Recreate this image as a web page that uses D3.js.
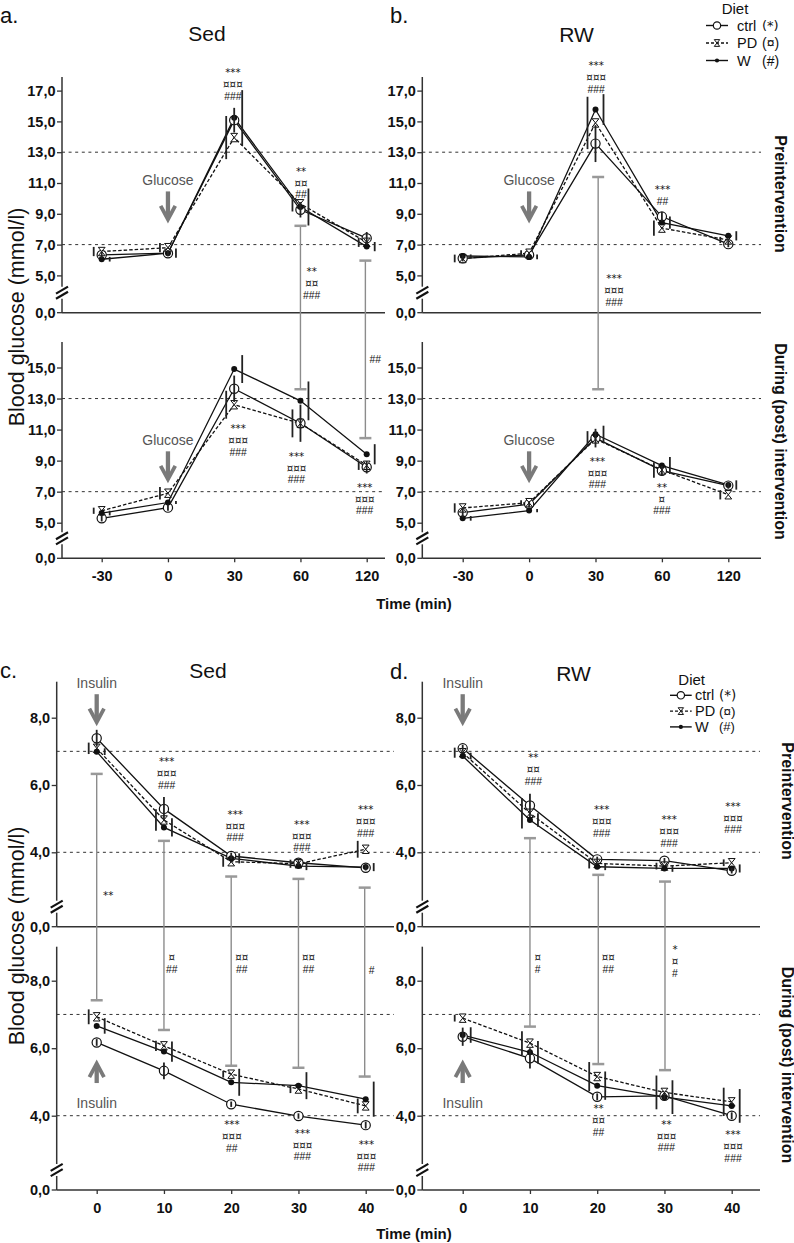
<!DOCTYPE html>
<html><head><meta charset="utf-8">
<script src="https://cdn.jsdelivr.net/npm/d3@7"></script>
<style>body{margin:0;background:#fff}svg{display:block}</style>
</head><body><svg id="chart" width="794" height="1243"></svg>
<script>
// ---------------- DATA ----------------
const ogttTimes = ["-30", "0", "30", "60", "120"];
const ogttIdx = [0, 1, 2, 3, 4];
const ittTimes = [0, 10, 20, 30, 40];
const ogttPreTicks = [5, 7, 9, 11, 13, 15, 17];
const ogttPostTicks = [5, 7, 9, 11, 13, 15];
const ittTicks = [4, 6, 8];
const ogttRefs = [7, 13];
const ittRefs = [4, 7];
const dietNames = ["ctrl", "PD", "W"];
const dietSymbols = ["(*)", "(¤)", "(#)"];

// a. Sed – OGTT
const aPreCtrl = [6.33, 6.44, 15.08, 9.26, 7.42];
const aPrePD   = [6.55, 6.80, 13.95, 9.65, 7.15];
const aPreW    = [6.05, 6.44, 15.23, 9.44, 6.87];
const aPreCtrlErr = [0.2, 0.2, 0.8, 0.5, 0.4];
const aPrePDErr   = [0.3, 0.3, 1.4, 0.5, 0.3];
const aPreWErr    = [0.15, 0.3, 1.8, 1.2, 0.3];
const aPostCtrl = [5.28, 5.97, 13.63, 11.41, 8.57];
const aPostPD   = [5.77, 6.90, 12.60, 11.40, 8.70];
const aPostW    = [5.62, 6.30, 14.90, 12.85, 9.41];
const aPostCtrlErr = [0.2, 0.2, 0.85, 1.2, 0.4];
const aPostPDErr   = [0.2, 0.4, 0.9, 0.9, 0.3];
const aPostWErr    = [0.15, 0.1, 0.9, 1.25, 0.65];

// b. RW – OGTT
const bPreCtrl = [6.11, 6.33, 13.56, 8.82, 7.03];
const bPrePD   = [6.10, 6.44, 14.90, 8.07, 7.30];
const bPreW    = [6.26, 6.20, 15.77, 8.43, 7.57];
const bPreCtrlErr = [0.2, 0.2, 1.2, 0.3, 0.2];
const bPrePDErr   = [0.25, 0.2, 1.7, 0.5, 0.2];
const bPreWErr    = [0.1, 0.15, 1.0, 0.4, 0.3];
const bPostCtrl = [5.65, 6.20, 10.45, 8.35, 7.39];
const bPostPD   = [5.95, 6.29, 10.40, 8.40, 6.80];
const bPostW    = [5.28, 5.78, 10.70, 8.68, 7.43];
const bPostCtrlErr = [0.3, 0.2, 0.6, 0.3, 0.2];
const bPostPDErr   = [0.3, 0.15, 0.5, 0.5, 0.3];
const bPostWErr    = [0.15, 0.1, 0.55, 0.55, 0.3];

// c. Sed – ITT
const cPreCtrl = [7.39, 5.29, 3.89, 3.69, 3.54];
const cPrePD   = [7.09, 4.96, 3.72, 3.66, 4.09];
const cPreW    = [6.99, 4.74, 3.82, 3.59, 3.56];
const cPreCtrlErr = [0.25, 0.35, 0.1, 0.08, 0.08];
const cPrePDErr   = [0.17, 0.32, 0.15, 0.12, 0.25];
const cPreWErr    = [0.1, 0.27, 0.15, 0.12, 0.12];
const cPostCtrl = [6.17, 5.33, 4.34, 3.99, 3.72];
const cPostPD   = [6.93, 6.07, 5.23, 4.79, 4.29];
const cPostW    = [6.66, 5.90, 4.99, 4.89, 4.49];
const cPostCtrlErr = [0.1, 0.25, 0.08, 0.08, 0.1];
const cPostPDErr   = [0.22, 0.15, 0.1, 0.12, 0.22];
const cPostWErr    = [0.23, 0.3, 0.4, 0.4, 0.52];

// d. RW – ITT
const dPreCtrl = [7.09, 5.39, 3.79, 3.75, 3.45];
const dPrePD   = [6.96, 5.16, 3.67, 3.59, 3.69];
const dPreW    = [6.86, 4.96, 3.57, 3.52, 3.52];
const dPreCtrlErr = [0.1, 0.35, 0.08, 0.08, 0.08];
const dPrePDErr   = [0.15, 0.45, 0.15, 0.1, 0.1];
const dPreWErr    = [0.1, 0.2, 0.1, 0.1, 0.12];
const dPostCtrl = [6.34, 5.70, 4.56, 4.59, 4.00];
const dPostPD   = [6.89, 6.15, 5.16, 4.69, 4.41];
const dPostW    = [6.39, 5.88, 4.89, 4.55, 4.29];
const dPostCtrlErr = [0.27, 0.3, 0.1, 0.1, 0.1];
const dPostPDErr   = [0.1, 0.35, 0.43, 0.5, 0.42];
const dPostWErr    = [0.23, 0.33, 0.42, 0.5, 0.5];

// significance labels: [x (data units), y (data units), lines]
const aPreSig  = [[1.98, 18.25, ["***", "¤¤¤", "###"]], [3.01, 11.87, ["**", "¤¤", "##"]], [3.17, 5.35, ["**", "¤¤", "###"]]];
const aPostSig = [[2.06, 11.15, ["***", "¤¤¤", "###"]], [2.94, 9.39, ["***", "¤¤¤", "###"]], [3.97, 7.39, ["***", "¤¤¤", "###"]], [4.13, 15.56, ["##"]]];
const bPreSig  = [[2.01, 18.7, ["***", "¤¤¤", "###"]], [3.01, 10.67, ["***", "##"]], [2.28, 4.88, ["***", "¤¤¤", "###"]]];
const bPostSig = [[2.03, 9.05, ["***", "¤¤¤", "###"]], [3.0, 7.39, ["**", "¤", "###"]]];
const cPreSig  = [[10.4, 6.74, ["***", "¤¤¤", "###"]], [20.6, 5.18, ["***", "¤¤¤", "###"]], [30.5, 4.88, ["***", "¤¤¤", "###"]], [40.0, 5.31, ["***", "¤¤¤", "###"]], [1.72, 2.76, ["**"]]];
const cPostSig = [[20.1, 3.77, ["***", "¤¤¤", "##"]], [30.6, 3.53, ["***", "¤¤¤", "###"]], [40.1, 3.2, ["***", "¤¤¤", "###"]],
                  [11.15, 8.73, ["¤", "##"]], [21.56, 8.73, ["¤¤", "##"]], [31.5, 8.73, ["¤¤", "##"]], [40.9, 8.34, ["#"]]];
const dPreSig  = [[10.5, 6.86, ["**", "¤¤", "###"]], [20.67, 5.31, ["***", "¤¤¤", "###"]], [30.7, 5.01, ["***", "¤¤¤", "###"]], [40.2, 5.41, ["***", "¤¤¤", "###"]]];
const dPostSig = [[20.2, 4.25, ["**", "¤¤", "##"]], [30.3, 3.79, ["**", "¤¤¤", "###"]], [40.2, 3.48, ["***", "¤¤¤", "###"]],
                  [11.15, 8.73, ["¤", "#"]], [21.65, 8.73, ["¤¤", "##"]], [31.57, 8.96, ["*", "¤", "#"]]];

// pre vs post comparison bars: [x, pre value (pre scale), post value (post scale)]
const aCompare = [[3, 8.22, 13.6], [3.98, 5.96, 10.45]];
const bCompare = [[2.04, 11.39, 13.6]];
const cCompare = [[0, 6.33, 7.42], [10, 4.34, 6.54], [20, 3.28, 5.48], [30, 3.21, 5.42], [39.85, 2.95, 5.16]];
const dCompare = [[10, 4.42, 6.64], [20.16, 3.33, 5.53], [30.08, 3.13, 5.35]];

// ---------------- DRAWING ----------------
const svg = d3.select("#chart");
const FONT = '"Liberation Sans", Arial, Helvetica, sans-serif';
const DJV = '"DejaVu Sans", sans-serif';
const fmt = d => d3.format(".1f")(d).replace(".", ",");
const INK = "#111";

function txt(g, x, y, s, size, o = {}) {
  const t = g.append("text").attr("x", x).attr("y", y).text(s)
    .attr("font-family", o.family || FONT).attr("font-size", size)
    .attr("font-weight", o.bold ? "bold" : "normal")
    .attr("fill", o.fill || INK)
    .attr("text-anchor", o.anchor || "middle")
    .attr("dominant-baseline", "central");
  if (o.rotate) t.attr("transform", `rotate(${o.rotate},${x},${y})`);
  return t;
}

function styleAxis(ag) {
  ag.selectAll(".tick line").attr("stroke", "#333").attr("stroke-width", 1.3);
  ag.selectAll(".tick text").attr("font-family", FONT).attr("font-size", 14.5)
    .attr("font-weight", "bold").attr("fill", INK);
}

function marker(g, kind, cx, cy, s) {
  if (kind === "ctrl") {
    g.append("circle").attr("cx", cx).attr("cy", cy).attr("r", 4.6 * s)
      .attr("fill", "#fff").attr("stroke", INK).attr("stroke-width", 1.2);
  } else if (kind === "PD") {
    const w = 3.4 * s, h = 4.2 * s;
    g.append("path").attr("d",
      `M${cx - w},${cy - h}L${cx + w},${cy - h}L${cx},${cy}Z M${cx - w},${cy + h}L${cx + w},${cy + h}L${cx},${cy}Z`)
      .attr("fill", "#fff").attr("stroke", INK).attr("stroke-width", 1);
  } else {
    g.append("circle").attr("cx", cx).attr("cy", cy).attr("r", 3 * s).attr("fill", INK);
  }
}

// stacked significance marks (compact fonts so that the lines do not collide)
function sigText(g, x, y, lines) {
  lines.forEach((s, k) => {
    const hash = s.includes("#");
    txt(g, x, y + 1 + k * 12, s, hash ? 10.4 : 10.3, { family: hash ? FONT : DJV });
  });
}

function phase(o) {
  const g = svg.append("g");
  const X = i => o.x(o.xv[i]);
  o.refs.forEach(r => g.append("line").attr("x1", o.axisX).attr("x2", o.right)
    .attr("y1", o.y(r)).attr("y2", o.y(r)).attr("stroke", "#333").attr("stroke-width", 1)
    .attr("stroke-dasharray", "3,3.6"));
  const yg = g.append("g").attr("transform", `translate(${o.axisX},0)`)
    .call(d3.axisLeft(o.y).tickValues(o.ticks).tickFormat(fmt).tickSize(5).tickPadding(1.5));
  yg.select(".domain").remove();
  styleAxis(yg);
  g.append("line").attr("x1", o.axisX - 5).attr("x2", o.axisX).attr("y1", o.base).attr("y2", o.base)
    .attr("stroke", "#333").attr("stroke-width", 1.3);
  txt(g, o.axisX - 6.5, o.base, fmt(0), 14.5, { bold: true, anchor: "end" });
  const yb = o.base - 20;
  g.append("line").attr("x1", o.axisX).attr("x2", o.axisX).attr("y1", o.top).attr("y2", yb - 6)
    .attr("stroke", "#333").attr("stroke-width", 1.5);
  g.append("line").attr("x1", o.axisX).attr("x2", o.axisX).attr("y1", yb + 6).attr("y2", o.base)
    .attr("stroke", "#333").attr("stroke-width", 1.5);
  [-2.6, 2.6].forEach(k => g.append("line")
    .attr("x1", o.axisX - 6).attr("y1", yb + 3.5 + k).attr("x2", o.axisX + 6).attr("y2", yb - 3.5 + k)
    .attr("stroke", INK).attr("stroke-width", 2.2));
  g.append("line").attr("x1", o.axisX).attr("x2", o.right).attr("y1", o.base).attr("y2", o.base)
    .attr("stroke", "#333").attr("stroke-width", 1.5);
  if (o.xLabels) {
    const xg = g.append("g").attr("transform", `translate(0,${o.base})`)
      .call(d3.axisBottom(o.x).tickValues(o.xv).tickFormat((d, i) => o.xLabels[i]).tickSize(4).tickPadding(8.5));
    xg.select(".domain").remove();
    styleAxis(xg);
  }
  const ser = [
    { v: o.ctrl, e: o.ctrlE, k: "ctrl", off: 0 },
    { v: o.pd, e: o.pdE, k: "PD", off: -8 },
    { v: o.w, e: o.wE, k: "W", off: 8 }
  ];
  ser.forEach(s => g.append("path").datum(s.v)
    .attr("d", d3.line().x((d, i) => X(i)).y(d => o.y(d)))
    .attr("fill", "none").attr("stroke", INK).attr("stroke-width", 1.3)
    .attr("stroke-dasharray", s.k === "PD" ? "3.5,2" : null));
  ser.forEach(s => s.v.forEach((d, i) => marker(g, s.k, X(i), o.y(d), 1)));
  ser.forEach(s => s.v.forEach((d, i) => g.append("line")
    .attr("x1", X(i) + s.off).attr("x2", X(i) + s.off)
    .attr("y1", o.y(d - s.e[i])).attr("y2", o.y(d + s.e[i]))
    .attr("stroke", "#222").attr("stroke-width", 1.8)));
  o.sig.forEach(([xv, yv, lines]) => sigText(g, o.x(xv), o.y(yv), lines));
}

function compare(x, yPre, yPost, list) {
  list.forEach(([xv, a, b]) => {
    const xx = x(xv), y1 = yPre(a), y2 = yPost(b);
    svg.append("line").attr("x1", xx).attr("x2", xx).attr("y1", y1).attr("y2", y2)
      .attr("stroke", "#8c8c8c").attr("stroke-width", 1.4);
    [y1, y2].forEach(yy => svg.append("line").attr("x1", xx - 6).attr("x2", xx + 6)
      .attr("y1", yy).attr("y2", yy).attr("stroke", "#999").attr("stroke-width", 2.5));
  });
}

function arrow(x, textY, label, down) {
  const col = "#7a7a7a";
  txt(svg, x, textY, label, 14, { fill: "#555" });
  let y0, tip;
  if (down) { y0 = textY + 11.5; tip = textY + 41; }
  else { y0 = textY - 19.5; tip = textY - 40.5; }
  const dir = down ? 1 : -1;
  svg.append("line").attr("x1", x).attr("x2", x).attr("y1", y0).attr("y2", tip - dir * 3)
    .attr("stroke", col).attr("stroke-width", 4.3);
  svg.append("path").attr("d", `M${x - 7.3},${tip - dir * 15}L${x},${tip - dir * 1.5}L${x + 7.3},${tip - dir * 15}`)
    .attr("fill", "none").attr("stroke", col).attr("stroke-width", 3.8);
}

function legend(cx, y0, dy, x1, x2, tx, px, parenSizes) {
  txt(svg, cx, y0, "Diet", 15);
  dietNames.forEach((n, i) => {
    const y = y0 + dy * (i + 1);
    svg.append("line").attr("x1", x1).attr("x2", x2).attr("y1", y).attr("y2", y)
      .attr("stroke", INK).attr("stroke-width", 1.4)
      .attr("stroke-dasharray", n === "PD" ? "3,2" : null);
    marker(svg, n, (x1 + x2) / 2, y, n === "W" ? 0.7 : 0.8);
    txt(svg, tx, y, n, 14.5, { anchor: "start" });
    txt(svg, px, y, dietSymbols[i], parenSizes[i], { anchor: "start", family: i === 0 ? DJV : FONT });
  });
}

// ---- scales ----
const xA = d3.scaleLinear().domain([0, 4]).range([101.7, 366.7]);
const xB = d3.scaleLinear().domain([0, 4]).range([462.7, 728.3]);
const yTopPre = d3.scaleLinear().domain([5, 17]).range([275.4, 90.6]);
const yTopPost = d3.scaleLinear().domain([5, 15]).range([522.7, 367.5]);
const xC = d3.scaleLinear().domain([0, 40]).range([96.7, 365.7]);
const xD = d3.scaleLinear().domain([0, 40]).range([462.7, 731.7]);
const yBotPre = d3.scaleLinear().domain([4, 8]).range([852.3, 717.7]);
const yBotPost = d3.scaleLinear().domain([4, 8]).range([1115.7, 980.7]);

// ---- panels ----
const topCommon = { xv: ogttIdx, refs: ogttRefs };
phase({ ...topCommon, x: xA, y: yTopPre, axisX: 62, right: 385, top: 77, base: 312.7, ticks: ogttPreTicks,
  ctrl: aPreCtrl, ctrlE: aPreCtrlErr, pd: aPrePD, pdE: aPrePDErr, w: aPreW, wE: aPreWErr, sig: aPreSig });
phase({ ...topCommon, x: xA, y: yTopPost, axisX: 62, right: 385, top: 342, base: 558.3, ticks: ogttPostTicks, xLabels: ogttTimes,
  ctrl: aPostCtrl, ctrlE: aPostCtrlErr, pd: aPostPD, pdE: aPostPDErr, w: aPostW, wE: aPostWErr, sig: aPostSig });
phase({ ...topCommon, x: xB, y: yTopPre, axisX: 422.3, right: 761, top: 77, base: 312.7, ticks: ogttPreTicks,
  ctrl: bPreCtrl, ctrlE: bPreCtrlErr, pd: bPrePD, pdE: bPrePDErr, w: bPreW, wE: bPreWErr, sig: bPreSig });
phase({ ...topCommon, x: xB, y: yTopPost, axisX: 422.3, right: 761, top: 342, base: 558.3, ticks: ogttPostTicks, xLabels: ogttTimes,
  ctrl: bPostCtrl, ctrlE: bPostCtrlErr, pd: bPostPD, pdE: bPostPDErr, w: bPostW, wE: bPostWErr, sig: bPostSig });

const botCommon = { xv: ittTimes, refs: ittRefs, ticks: ittTicks };
phase({ ...botCommon, x: xC, y: yBotPre, axisX: 56.7, right: 394, top: 681.7, base: 926.7,
  ctrl: cPreCtrl, ctrlE: cPreCtrlErr, pd: cPrePD, pdE: cPrePDErr, w: cPreW, wE: cPreWErr, sig: cPreSig });
phase({ ...botCommon, x: xC, y: yBotPost, axisX: 56.7, right: 394, top: 946.7, base: 1190, xLabels: ittTimes.map(String),
  ctrl: cPostCtrl, ctrlE: cPostCtrlErr, pd: cPostPD, pdE: cPostPDErr, w: cPostW, wE: cPostWErr, sig: cPostSig });
phase({ ...botCommon, x: xD, y: yBotPre, axisX: 422.3, right: 760, top: 681.7, base: 926.7,
  ctrl: dPreCtrl, ctrlE: dPreCtrlErr, pd: dPrePD, pdE: dPrePDErr, w: dPreW, wE: dPreWErr, sig: dPreSig });
phase({ ...botCommon, x: xD, y: yBotPost, axisX: 422.3, right: 760, top: 946.7, base: 1190, xLabels: ittTimes.map(String),
  ctrl: dPostCtrl, ctrlE: dPostCtrlErr, pd: dPostPD, pdE: dPostPDErr, w: dPostW, wE: dPostWErr, sig: dPostSig });

compare(xA, yTopPre, yTopPost, aCompare);
compare(xB, yTopPre, yTopPost, bCompare);
compare(xC, yBotPre, yBotPost, cCompare);
compare(xD, yBotPre, yBotPost, dCompare);

arrow(xA(1), yTopPre(11.2), "Glucose", true);
arrow(xA(1), yTopPost(10.34), "Glucose", true);
arrow(xB(1), yTopPre(11.2), "Glucose", true);
arrow(xB(1), yTopPost(10.34), "Glucose", true);
arrow(xC(0), yBotPre(9.04), "Insulin", true);
arrow(xC(0), yBotPost(4.39), "Insulin", false);
arrow(xD(0), yBotPre(9.04), "Insulin", true);
arrow(xD(0), yBotPost(4.39), "Insulin", false);

txt(svg, 0, 15, "a.", 22, { anchor: "start" });
txt(svg, 390, 15, "b.", 22, { anchor: "start" });
txt(svg, 0, 670, "c.", 22, { anchor: "start" });
txt(svg, 390, 671.7, "d.", 22, { anchor: "start" });
txt(svg, 207, 33, "Sed", 21);
txt(svg, 576.5, 34, "RW", 21);
txt(svg, 208, 670, "Sed", 21);
txt(svg, 573.5, 673, "RW", 21);
txt(svg, 17, 317, "Blood glucose (mmol/l)", 21.5, { rotate: -90 });
txt(svg, 17, 936, "Blood glucose (mmol/l)", 21.5, { rotate: -90 });
txt(svg, 414, 603, "Time (min)", 15, { bold: true });
txt(svg, 414, 1233, "Time (min)", 15, { bold: true });
txt(svg, 780.5, 194, "Preintervention", 16, { bold: true, rotate: 90 });
txt(svg, 780.5, 441.5, "During (post) intervention", 16, { bold: true, rotate: 90 });
txt(svg, 787, 801, "Preintervention", 16, { bold: true, rotate: 90 });
txt(svg, 787, 1065, "During (post) intervention", 16, { bold: true, rotate: 90 });

legend(735, 8, 17.5, 706, 728, 737, 762, [13, 14, 14]);
legend(691.7, 679.5, 15.8, 670, 691.7, 695, 719, [13.5, 13.5, 13]);
</script></body></html>
